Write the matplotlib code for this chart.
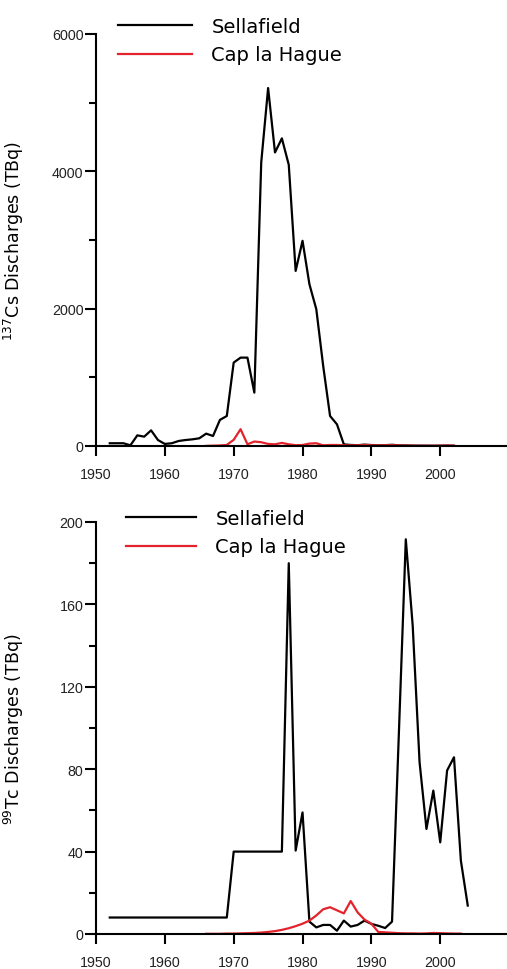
import matplotlib
matplotlib.use("Agg")
import matplotlib.pyplot as plt
from matplotlib.ticker import MultipleLocator, FixedLocator, NullFormatter

# ---------------- data ----------------
cs_sella_years = list(range(1952, 2003))
cs_sella = [40, 40, 40, 10, 155, 136, 228, 87, 30, 40,
            73, 87, 97, 112, 180, 146, 380, 437, 1215, 1287,
            1287, 777, 4130, 5213, 4275, 4480, 4095, 2550, 2988, 2356,
            1992, 1166, 437, 316, 24, 15, 12, 20, 14, 10,
            12, 18, 10, 8, 6, 5, 5, 4, 5, 6,
            4]

cs_hague_years = list(range(1966, 2003))
cs_hague = [2, 5, 8, 15, 90, 245, 25, 65, 55, 30,
            25, 45, 25, 12, 15, 35, 40, 10, 15, 15,
            10, 8, 10, 15, 10, 8, 10, 12, 8, 5,
            4, 3, 3, 3, 4, 8, 3]

tc_sella_years = list(range(1952, 2005))
tc_sella = [8, 8, 8, 8, 8, 8, 8, 8, 8, 8,
            8, 8, 8, 8, 8, 8, 8, 8, 40, 40,
            40, 40, 40, 40, 40, 40, 180, 40.5, 59, 6,
            3.2, 4.4, 4.4, 1.6, 6.5, 3.6, 4.4, 6.5, 4.9, 4,
            2.9, 6, 98, 191.6, 149.8, 83.4, 51, 69.6, 44.5, 79.4,
            85.8, 35.6, 13.8]

tc_hague_years = list(range(1966, 2004))
tc_hague = [0.1, 0.1, 0.1, 0.2, 0.2, 0.3, 0.4, 0.5, 0.7, 1.0,
            1.4, 2.0, 2.8, 3.8, 5.0, 6.5, 9.0, 12.0, 13.0, 11.5,
            10.0, 16.0, 10.5, 7.0, 5.0, 1.0, 0.8, 0.6, 0.4, 0.3,
            0.3, 0.2, 0.3, 0.5, 0.4, 0.3, 0.2, 0.2]

series_labels = ["Sellafield", "Cap la Hague"]
x_ticks = [1950, 1960, 1970, 1980, 1990, 2000]
cs_ticks = [0, 2000, 4000, 6000]
tc_ticks = [0, 40, 80, 120, 160, 200]

# ---------------- figure ----------------
W, H = 507, 970
fig = plt.figure(figsize=(W / 100, H / 100), dpi=100)

tick_font = dict(family=["Liberation Sans Narrow", "Liberation Sans", "DejaVu Sans"], size=10.3)
RED = "#e3232b"


def make_ax(top_px, bottom_px):
    left = 96 / W
    ax = fig.add_axes([left, 1 - bottom_px / H, 1 - left, (bottom_px - top_px) / H])
    for s in ("top", "right"):
        ax.spines[s].set_visible(False)
    for s in ("left", "bottom"):
        ax.spines[s].set_linewidth(1.5)
    ax.set_xlim(1950, 2009.7)
    ax.xaxis.set_major_locator(FixedLocator(x_ticks))
    ax.tick_params(axis="x", which="major", direction="out", length=7, width=1.5, pad=8,
                   labelsize=tick_font["size"], colors="black", labelcolor="#222222")
    ax.tick_params(axis="y", which="major", direction="out", length=8, width=1.5, pad=1,
                   labelsize=tick_font["size"], colors="black", labelcolor="#222222")
    ax.tick_params(axis="y", which="minor", direction="out", length=4.8, width=1.5)
    return ax


def finish_ticks(ax):
    for lab in ax.get_xticklabels() + ax.get_yticklabels():
        lab.set_family(tick_font["family"])


# ---- top: Cs-137
ax1 = make_ax(35, 447)
ax1.plot(cs_sella_years, cs_sella, color="black", lw=1.6, label=series_labels[0])
ax1.plot(cs_hague_years, cs_hague, color=RED, lw=1.6, label=series_labels[1])
ax1.set_ylim(0, 6000)
ax1.yaxis.set_major_locator(FixedLocator(cs_ticks))
ax1.yaxis.set_minor_locator(MultipleLocator(1000))
ax1.yaxis.set_minor_formatter(NullFormatter())
ax1.set_ylabel("$^{137}$Cs Discharges (TBq)", fontsize=12.5, family="DejaVu Sans")
ax1.yaxis.set_label_coords(-70 / (W - 96), 0.5)
finish_ticks(ax1)
ax1.legend(loc="upper left", bbox_to_anchor=(118 / W, 1 - 18 / H), bbox_transform=fig.transFigure,
           frameon=False, fontsize=14, handlelength=3.8, handletextpad=1.0,
           labelspacing=0.48, borderpad=0, borderaxespad=0)

# ---- bottom: Tc-99
ax2 = make_ax(523, 935)
ax2.plot(tc_sella_years, tc_sella, color="black", lw=1.6, label=series_labels[0])
ax2.plot(tc_hague_years, tc_hague, color=RED, lw=1.6, label=series_labels[1])
ax2.set_ylim(0, 200)
ax2.yaxis.set_major_locator(FixedLocator(tc_ticks))
ax2.yaxis.set_minor_locator(MultipleLocator(20))
ax2.yaxis.set_minor_formatter(NullFormatter())
ax2.set_ylabel("$^{99}$Tc Discharges (TBq)", fontsize=12.5, family="DejaVu Sans")
ax2.yaxis.set_label_coords(-70 / (W - 96), 0.5)
finish_ticks(ax2)
ax2.legend(loc="upper left", bbox_to_anchor=(126 / W, 1 - 510 / H), bbox_transform=fig.transFigure,
           frameon=False, fontsize=14, handlelength=3.6, handletextpad=1.0,
           labelspacing=0.48, borderpad=0, borderaxespad=0)

fig.savefig("out.png", dpi=100)
